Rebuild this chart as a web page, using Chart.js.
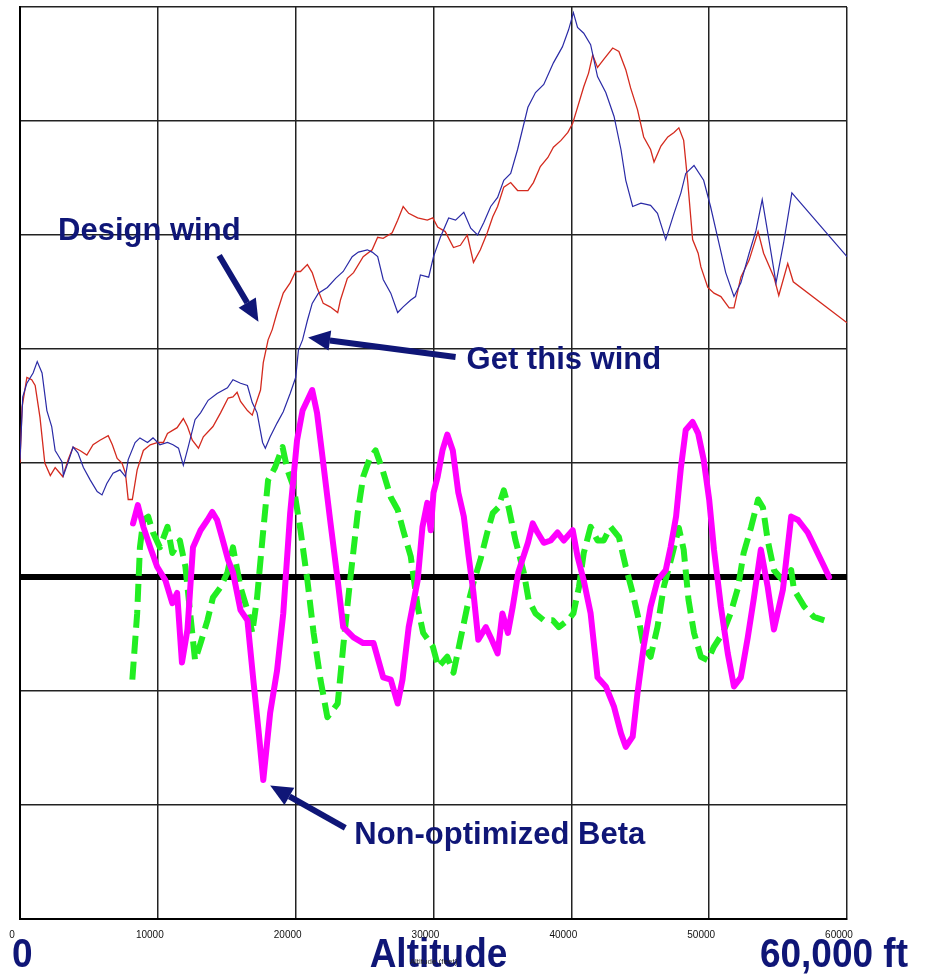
<!DOCTYPE html>
<html>
<head>
<meta charset="utf-8">
<title>Design wind vs. wind obtained</title>
<script src="https://cdn.jsdelivr.net/npm/chart.js"></script>
<style>
  html, body { margin: 0; padding: 0; background: #fff; }
  #wrap { position: relative; width: 926px; height: 974px; }
</style>
</head>
<body>
<div id="wrap"><canvas id="windChart"></canvas></div>
<script>
// Altitude ticks (ft)
const altitudeTicks = [0, 10000, 20000, 30000, 40000, 50000, 60000]

// Design wind (red)
const designAlt = [
  0, 150, 500, 850, 1100, 1450, 1800, 2200, 2550, 2900,
  3100, 3500, 3850, 4350, 4850, 5300, 5800, 6400, 6700, 7050,
  7400, 7650, 7850, 8150, 8500, 8950, 9450, 10000, 10400, 10700,
  11400, 11850, 12150, 12500, 12950, 13300, 14000, 14550, 15100, 15450,
  15750, 16000, 16500, 16850, 17200, 17450, 17650, 18000, 18300, 18650,
  19100, 19600, 20000, 20350, 20850, 21200, 21550, 22000, 22500, 23050,
  23250, 23750, 24200, 24900, 25550, 25950, 26350, 27000, 27400, 27800,
  28200, 28850, 29550, 29950, 30300, 30850, 31450, 31950, 32450, 32900,
  33400, 33900, 34300, 34650, 35100, 35600, 36100, 36850, 37250, 37750,
  38300, 38700, 39250, 39750, 40100, 40450, 40900, 41250, 41550, 41900,
  42350, 43000, 43450, 43950, 44300, 44800, 45250, 45750, 46000, 46500,
  47000, 47450, 47800, 48150, 48450, 48800, 49200, 49400, 49900, 50350,
  50850, 51450, 51800, 52300, 52900, 53550, 53950, 54700, 55050, 55700,
  56100, 60000
]
const designWind = [
  1.00, 1.49, 1.75, 1.73, 1.68, 1.40, 1.00, 0.89, 0.96, 0.91,
  0.88, 1.03, 1.14, 1.11, 1.07, 1.16, 1.20, 1.24, 1.16, 1.04,
  1.00, 0.91, 0.68, 0.68, 0.94, 1.11, 1.16, 1.18, 1.18, 1.26,
  1.31, 1.39, 1.32, 1.20, 1.13, 1.23, 1.32, 1.44, 1.57, 1.58,
  1.62, 1.54, 1.46, 1.42, 1.55, 1.64, 1.88, 2.08, 2.17, 2.32,
  2.49, 2.58, 2.68, 2.68, 2.74, 2.67, 2.54, 2.40, 2.37, 2.32,
  2.43, 2.62, 2.67, 2.81, 2.87, 2.98, 2.97, 3.02, 3.13, 3.25,
  3.19, 3.15, 3.13, 3.15, 3.07, 3.03, 2.89, 2.91, 3.00, 2.76,
  2.87, 3.02, 3.16, 3.25, 3.42, 3.46, 3.39, 3.39, 3.46, 3.60,
  3.68, 3.77, 3.83, 3.90, 3.98, 4.12, 4.30, 4.42, 4.58, 4.47,
  4.54, 4.64, 4.61, 4.45, 4.29, 4.10, 3.86, 3.75, 3.64, 3.78,
  3.86, 3.90, 3.94, 3.83, 3.46, 2.96, 2.84, 2.72, 2.54, 2.49,
  2.46, 2.36, 2.36, 2.63, 2.78, 3.03, 2.84, 2.63, 2.47, 2.75,
  2.59, 2.23
]

// Wind actually obtained (blue)
const gotAlt = [
  0, 200, 500, 950, 1250, 1600, 1950, 2300, 2550, 2750,
  3050, 3150, 3500, 3850, 4200, 4600, 5100, 5600, 5950, 6300,
  6750, 7250, 7650, 7850, 8350, 8700, 9250, 9650, 10150, 10700,
  11100, 11500, 11850, 12200, 12700, 13100, 13650, 14300, 15050, 15450,
  16000, 16500, 16850, 17200, 17600, 17800, 18150, 18650, 19100, 19600,
  20000, 20200, 20500, 20850, 21200, 21650, 22300, 22900, 23450, 24100,
  24550, 25200, 25550, 25950, 26350, 26900, 27400, 27800, 28350, 28700,
  29050, 29650, 30000, 30500, 31100, 31600, 32200, 32700, 33200, 33650,
  34150, 34650, 35100, 35600, 36100, 36850, 37400, 38000, 38700, 39350,
  39800, 40150, 40450, 40900, 41400, 41900, 42500, 43100, 43600, 43950,
  44450, 45050, 45750, 46250, 46850, 47450, 47950, 48300, 48900, 49600,
  50100, 50650, 51200, 51800, 52300, 52900, 53400, 53850, 54250, 54850,
  55400, 56000, 60000
]
const gotWind = [
  1.03, 1.58, 1.70, 1.79, 1.89, 1.79, 1.46, 1.32, 1.11, 1.07,
  1.01, 0.89, 1.01, 1.14, 1.09, 0.96, 0.85, 0.75, 0.72, 0.82,
  0.91, 0.94, 0.88, 1.03, 1.18, 1.22, 1.18, 1.22, 1.16, 1.18,
  1.16, 1.13, 0.98, 1.14, 1.38, 1.44, 1.55, 1.61, 1.66, 1.73,
  1.70, 1.68, 1.53, 1.44, 1.18, 1.13, 1.23, 1.35, 1.45, 1.61,
  1.75, 1.99, 2.08, 2.25, 2.40, 2.49, 2.54, 2.62, 2.68, 2.81,
  2.85, 2.87, 2.85, 2.81, 2.61, 2.49, 2.32, 2.37, 2.43, 2.46,
  2.65, 2.63, 2.81, 2.98, 3.15, 3.13, 3.20, 3.06, 3.00, 3.11,
  3.25, 3.33, 3.48, 3.54, 3.75, 4.12, 4.25, 4.32, 4.51, 4.65,
  4.80, 4.95, 4.82, 4.77, 4.67, 4.39, 4.25, 4.04, 3.75, 3.48,
  3.25, 3.28, 3.26, 3.19, 2.96, 3.19, 3.37, 3.54, 3.61, 3.48,
  3.25, 2.96, 2.67, 2.46, 2.58, 2.84, 3.04, 3.31, 3.02, 2.58,
  2.93, 3.37, 2.81
]

// Non-optimized Beta (magenta)
const betaAlt = [
  8200, 8550, 8950, 9450, 9950, 10550, 11050, 11400, 11750, 12150,
  12550, 13100, 13600, 13950, 14300, 14650, 15100, 15450, 16000, 16500,
  16950, 17300, 17650, 18150, 18650, 19100, 19600, 20100, 20500, 20850,
  21200, 21550, 21950, 22500, 23050, 23450, 24200, 24900, 25650, 26350,
  26900, 27400, 27750, 28200, 28850, 29200, 29550, 29800, 30000, 30300,
  30650, 31000, 31400, 31800, 32200, 32550, 32900, 33250, 33800, 34150,
  34650, 35000, 35400, 35750, 36150, 36850, 37200, 37550, 38000, 38500,
  39000, 39450, 40100, 40450, 40900, 41400, 41900, 42500, 43100, 43600,
  43950, 44450, 44800, 45250, 45750, 46250, 46850, 47200, 47600, 47950,
  48300, 48800, 49200, 49600, 50000, 50350, 50850, 51350, 51800, 52300,
  52800, 53250, 53750, 54250, 54700, 55350, 55950, 56450, 57150, 58350,
  58700
]
const betaValue = [
  0.47, 0.63, 0.44, 0.26, 0.09, -0.03, -0.23, -0.14, -0.75, -0.46,
  0.26, 0.41, 0.50, 0.57, 0.50, 0.35, 0.15, 0.04, -0.29, -0.38,
  -0.93, -1.34, -1.78, -1.19, -0.82, -0.32, 0.56, 1.20, 1.46, 1.55,
  1.64, 1.44, 1.05, 0.50, -0.03, -0.44, -0.53, -0.58, -0.58, -0.88,
  -0.90, -1.11, -0.90, -0.44, -0.03, 0.44, 0.65, 0.41, 0.74, 0.88,
  1.11, 1.25, 1.11, 0.74, 0.53, 0.18, -0.14, -0.55, -0.44, -0.53,
  -0.67, -0.32, -0.49, -0.26, 0.04, 0.30, 0.47, 0.39, 0.30, 0.32,
  0.39, 0.32, 0.41, 0.18, -0.03, -0.32, -0.88, -0.96, -1.14, -1.37,
  -1.49, -1.40, -1.02, -0.61, -0.26, -0.03, 0.06, 0.26, 0.53, 0.96,
  1.29, 1.36, 1.26, 1.03, 0.68, 0.24, -0.26, -0.67, -0.96, -0.88,
  -0.53, -0.18, 0.24, -0.09, -0.46, -0.11, 0.53, 0.50, 0.39, 0.09,
  0.00
]

// Second Beta trace (green dashed)
const beta2Alt = [
  8150, 8500, 8700, 8950, 9300, 9650, 10150, 10700, 11050, 11600,
  12000, 12350, 12700, 13100, 13600, 14000, 14550, 15050, 15450, 16000,
  16500, 16850, 17200, 17650, 18000, 18500, 19050, 19400, 19850, 20350,
  20850, 21300, 21800, 22300, 23050, 23450, 23950, 24500, 24900, 25400,
  25800, 26300, 26900, 27400, 27800, 28350, 28850, 29250, 29950, 30350,
  31000, 31450, 31950, 32450, 32900, 33400, 33900, 34300, 34700, 35100,
  35450, 35950, 36550, 36900, 37400, 38000, 38650, 39100, 39750, 40150,
  40550, 40900, 41400, 41900, 42350, 42850, 43450, 43950, 44450, 44900,
  45250, 45750, 46250, 46700, 47350, 47800, 48150, 48500, 48900, 49400,
  49900, 50350, 51000, 51550, 52100, 52500, 53050, 53550, 53900, 54250,
  54700, 55350, 55950, 56150, 56900, 57600, 58350
]
const beta2Value = [
  -0.90, -0.32, 0.26, 0.50, 0.53, 0.39, 0.26, 0.44, 0.21, 0.32,
  0.09, -0.32, -0.73, -0.58, -0.38, -0.18, -0.09, 0.04, 0.26, -0.09,
  -0.29, -0.49, -0.18, 0.41, 0.85, 0.96, 1.14, 0.94, 0.79, 0.41,
  -0.03, -0.49, -0.90, -1.23, -1.11, -0.61, -0.03, 0.56, 0.88, 1.05,
  1.11, 0.94, 0.70, 0.59, 0.41, 0.18, -0.26, -0.49, -0.61, -0.79,
  -0.70, -0.84, -0.55, -0.26, -0.05, 0.15, 0.39, 0.56, 0.61, 0.76,
  0.61, 0.32, 0.04, -0.20, -0.32, -0.38, -0.38, -0.44, -0.38, -0.32,
  -0.09, 0.21, 0.44, 0.32, 0.32, 0.44, 0.35, 0.09, -0.14, -0.38,
  -0.61, -0.70, -0.44, -0.09, 0.21, 0.43, 0.24, -0.20, -0.49, -0.70,
  -0.73, -0.61, -0.49, -0.32, -0.09, 0.21, 0.44, 0.68, 0.61, 0.32,
  0.06, -0.03, 0.06, -0.11, -0.26, -0.35, -0.38
]

const NAVY = '#0f1677'
const FONT = '"Liberation Sans", Arial, Helvetica, sans-serif'

const toPoints = (xs, ys) => xs.map((x, i) => ({ x: x, y: ys[i] }))

// Callouts (text anchor + arrow tail/tip in data coordinates)
const callouts = [
  { text: 'Design wind', at: [2760, 3.03], tail: [14450, 2.82], tip: [17300, 2.24] },
  { text: 'Get this wind', at: [32400, 1.90], tail: [31600, 1.93], tip: [20900, 2.10] },
  { text: 'Non-optimized Beta', at: [24250, -2.27], tail: [23600, -2.20], tip: [18150, -1.83] }
]

function drawArrow(ctx, x1, y1, x2, y2) {
  const ang = Math.atan2(y2 - y1, x2 - x1)
  const headLen = 22
  const headHalf = 10
  const bx = x2 - headLen * Math.cos(ang)
  const by = y2 - headLen * Math.sin(ang)
  ctx.beginPath()
  ctx.moveTo(x1, y1)
  ctx.lineTo(bx, by)
  ctx.lineWidth = 6
  ctx.strokeStyle = NAVY
  ctx.stroke()
  ctx.beginPath()
  ctx.moveTo(x2, y2)
  ctx.lineTo(bx + headHalf * Math.sin(ang), by - headHalf * Math.cos(ang))
  ctx.lineTo(bx - headHalf * Math.sin(ang), by + headHalf * Math.cos(ang))
  ctx.closePath()
  ctx.fillStyle = NAVY
  ctx.fill()
}

function stretchedText(ctx, text, x, y, align) {
  ctx.save()
  ctx.translate(x, y)
  ctx.scale(1, 1.12)
  ctx.textAlign = align
  ctx.textBaseline = 'alphabetic'
  ctx.fillText(text, 0, 0)
  ctx.restore()
}

const slideText = {
  id: 'slideText',
  // big slide labels under the small axis title
  beforeDraw(chart) {
    const ctx = chart.ctx
    const area = chart.chartArea
    ctx.save()
    ctx.fillStyle = NAVY
    ctx.font = 'bold 37px ' + FONT
    stretchedText(ctx, '0', area.left - 8, 967, 'left')
    stretchedText(ctx, 'Altitude', (area.left + area.right) / 2 + 5, 967, 'center')
    stretchedText(ctx, '60,000 ft', area.right + 61, 967, 'right')
    ctx.restore()
  },
  afterDatasetsDraw(chart) {
    const ctx = chart.ctx
    const xs = chart.scales.x
    const ys = chart.scales.y
    ctx.save()
    ctx.font = 'bold 31px ' + FONT
    ctx.fillStyle = NAVY
    ctx.textAlign = 'left'
    ctx.textBaseline = 'middle'
    callouts.forEach(c => {
      ctx.fillText(c.text, xs.getPixelForValue(c.at[0]), ys.getPixelForValue(c.at[1]))
      drawArrow(ctx,
        xs.getPixelForValue(c.tail[0]), ys.getPixelForValue(c.tail[1]),
        xs.getPixelForValue(c.tip[0]), ys.getPixelForValue(c.tip[1]))
    })
    ctx.restore()
  }
}

new Chart(document.getElementById('windChart'), {
  type: 'line',
  data: {
    datasets: [
      {
        label: 'Non-optimized Beta',
        data: toPoints(betaAlt, betaValue),
        borderColor: '#ff00ff',
        borderWidth: 6,
        borderJoinStyle: 'round',
        borderCapStyle: 'round',
        order: 0
      },
      {
        label: 'Beta (dashed)',
        data: toPoints(beta2Alt, beta2Value),
        borderColor: '#22ee22',
        borderWidth: 6,
        borderDash: [18, 8],
        borderJoinStyle: 'round',
        order: 1
      },
      {
        label: 'Get this wind',
        data: toPoints(gotAlt, gotWind),
        borderColor: '#2a2aa6',
        borderWidth: 1.2,
        order: 2
      },
      {
        label: 'Design wind',
        data: toPoints(designAlt, designWind),
        borderColor: '#d42a1e',
        borderWidth: 1.3,
        order: 3
      }
    ]
  },
  options: {
    animation: false,
    responsive: true,
    maintainAspectRatio: false,
    layout: { padding: { left: 20, right: 79, top: 7, bottom: 0 } },
    elements: {
      point: { radius: 0 },
      line: { tension: 0, fill: false }
    },
    plugins: {
      legend: { display: false },
      tooltip: { enabled: false }
    },
    scales: {
      x: {
        type: 'linear',
        min: altitudeTicks[0],
        max: altitudeTicks[altitudeTicks.length - 1],
        afterBuildTicks: s => { s.ticks = altitudeTicks.map(v => ({ value: v })) },
        ticks: {
          padding: 10,
          labelOffset: -8,
          color: '#111',
          font: { family: FONT, size: 10 },
          callback: v => String(v)
        },
        grid: { color: '#222', lineWidth: 1.5, drawTicks: false },
        border: { color: '#000', width: 2 },
        title: {
          display: true,
          text: 'Altitude (feet)',
          color: '#222',
          font: { family: FONT, size: 8 },
          padding: { top: 0, bottom: 7 }
        },
        afterFit: s => { s.height = 55 }
      },
      y: {
        min: -3,
        max: 5,
        ticks: { stepSize: 1, display: false },
        grid: {
          color: c => c.tick && c.tick.value === 0 ? '#000' : '#222',
          lineWidth: c => c.tick && c.tick.value === 0 ? 6 : 1.5,
          drawTicks: false
        },
        border: { color: '#000', width: 2 },
        afterFit: s => { s.width = 0 }
      }
    }
  },
  plugins: [slideText]
})
</script>
</body>
</html>
